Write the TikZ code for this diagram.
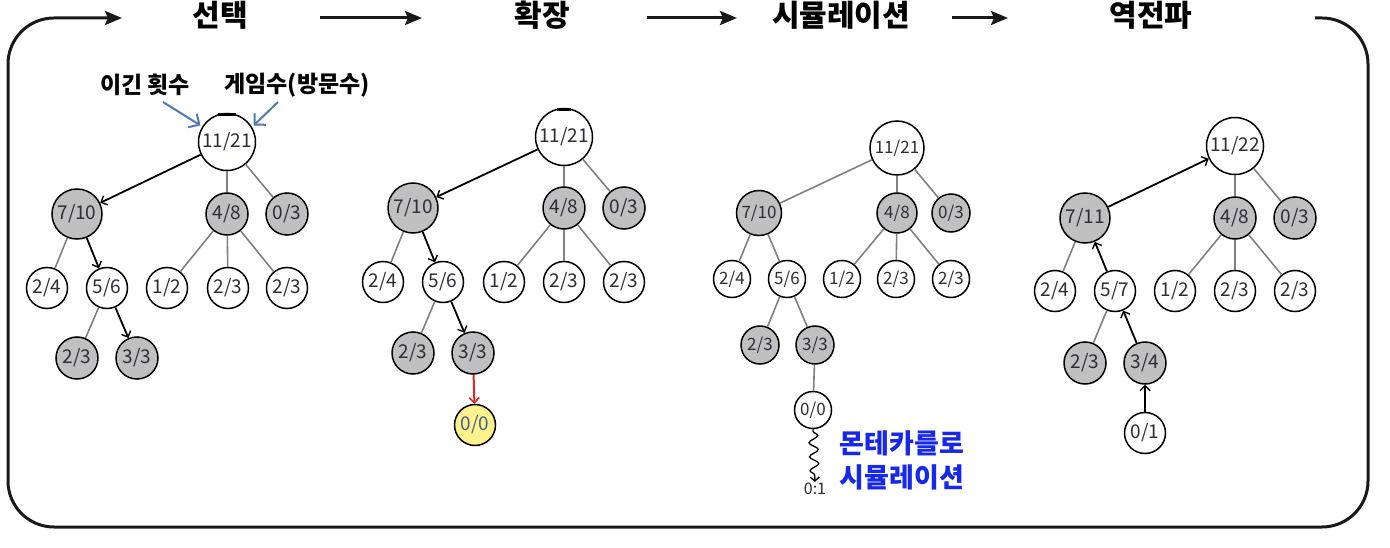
\documentclass[tikz,border=0pt]{standalone}
\usepackage{fontspec}
\setmainfont{Noto Sans CJK KR}
\usetikzlibrary{arrows.meta,decorations.pathmorphing,calc}
\definecolor{nodegray}{RGB}{192,192,192}
\definecolor{edgegray}{RGB}{128,128,128}
\definecolor{hiyellow}{RGB}{255,242,140}
\definecolor{annoblue}{RGB}{79,120,182}
\definecolor{mcblue}{RGB}{22,40,235}
\definecolor{redarrow}{RGB}{220,40,40}
\definecolor{nodetext}{RGB}{45,45,55}
\begin{document}
\begin{tikzpicture}[x=1pt,y=-1pt,
  nd/.style={circle,draw=black,line width=1.5pt,inner sep=0pt,text=nodetext,font=\fontsize{19}{19}\selectfont},
  wn/.style={nd,fill=white,minimum size=41pt},
  gn/.style={nd,fill=nodegray,minimum size=42pt},
  yn/.style={nd,fill=hiyellow,minimum size=41pt,text=annoblue!80!black},
  bign/.style={minimum size=57pt},
  midn/.style={minimum size=50pt},
  sm/.style={font=\fontsize{17}{17}\selectfont},
  edge/.style={draw=edgegray,line width=1.6pt},
  sel/.style={draw=black,line width=1.8pt,-{Straight Barb[length=5pt,width=10pt,line width=1.4pt]}},
  redsel/.style={draw=redarrow,line width=2pt,-{Straight Barb[length=5pt,width=10pt,line width=1.6pt]}},
  anno/.style={draw=annoblue,line width=2pt,-{Straight Barb[length=8pt,width=16pt,line width=2pt]}},
  head/.style={font=\fontsize{30}{30}\selectfont\bfseries},
  frame/.style={draw=black!90,line width=3pt},
  harrow/.style={frame,-{Stealth[length=17pt,width=14pt,inset=3pt]}},
  lbl/.style={font=\fontsize{23}{23}\selectfont\bfseries,text=black},
  mclbl/.style={font=\fontsize{27}{27}\selectfont\bfseries,text=mcblue},
  snakearrow/.style={draw=black,line width=1.3pt,decorate,decoration={snake,amplitude=4.5pt,segment length=14pt,pre length=2pt,post length=5pt},-{Straight Barb[length=4pt,width=9pt]}}
]
\useasboundingbox (0,0) rectangle (1390,548);

% ---------------- header ----------------
\node[head] (hsel) at (220,15) {선택};
\node[head] (hexp) at (542,15) {확장};
\node[head] (hsim) at (841,15) {시뮬레이션};
\node[head] (hbp)  at (1151,15) {역전파};
\coordinate (a1s) at (320,18); \coordinate (a1e) at (422,18);
\coordinate (a2s) at (647,18); \coordinate (a2e) at (737,18);
\coordinate (a3s) at (952,18); \coordinate (a3e) at (1008,18);
\draw[harrow] (a1s) -- (a1e);
\draw[harrow] (a2s) -- (a2e);
\draw[harrow] (a3s) -- (a3e);
\coordinate (f0) at (1315,18); \coordinate (f1) at (1368,18);
\coordinate (f2) at (1368,527); \coordinate (f3) at (8,527);
\coordinate (f4) at (8,18); \coordinate (f5) at (122,18);
\draw[harrow,rounded corners=46pt] (f0) -- (f1) -- (f2) -- (f3) -- (f4) -- (f5);

% ---------------- tree 1: selection ----------------
\node[wn,bign] (r1) at (227,142) {11/21};
\draw[line width=3pt] ($(r1.center)+(-9,-27)$) -- ($(r1.center)+(9,-27)$);
\node[gn,midn] (a1) at (77,214) {7/10};
\node[gn] (b1) at (227,214) {4/8};
\node[gn] (c1) at (287,214) {0/3};
\node[wn] (d1) at (47,288) {2/4};
\node[wn] (e1) at (107,288) {5/6};
\node[wn] (g1) at (167,288) {1/2};
\node[wn] (h1) at (228,288) {2/3};
\node[wn] (i1) at (287,288) {2/3};
\node[gn] (j1) at (77,358) {2/3};
\node[gn] (k1) at (137,358) {3/3};
\draw[edge] (r1) -- (b1); \draw[edge] (r1) -- (c1);
\draw[edge] (a1) -- (d1);
\draw[edge] (b1) -- (g1); \draw[edge] (b1) -- (h1); \draw[edge] (b1) -- (i1);
\draw[edge] (e1) -- (j1);
\draw[sel] (r1) -- (a1);
\draw[sel] (a1) -- (e1);
\draw[sel] (e1) -- (k1);
\node[lbl] (lw) at (145,85) {이긴 횟수};
\node[lbl] (lg) at (297,85) {게임수(방문수)};
\coordinate (lws) at (163,102);
\coordinate (lgs) at (278,102);
\draw[anno,shorten >=2pt] (lws) -- (r1.148);
\draw[anno,shorten >=2pt] (lgs) -- (r1.31);

% ---------------- tree 2: expansion ----------------
\node[wn,bign] (r2) at (564,137) {11/21};
\draw[line width=3pt] ($(r2.center)+(-7,-27)$) -- ($(r2.center)+(7,-27)$);
\node[gn,midn] (a2) at (413,208) {7/10};
\node[gn] (b2) at (564,208) {4/8};
\node[gn] (c2) at (624,208) {0/3};
\node[wn] (d2) at (383,282) {2/4};
\node[wn] (e2) at (443,282) {5/6};
\node[wn] (g2) at (504,282) {1/2};
\node[wn] (h2) at (564,282) {2/3};
\node[wn] (i2) at (624,282) {2/3};
\node[gn] (j2) at (413,353) {2/3};
\node[gn] (k2) at (473,353) {3/3};
\node[yn] (n2) at (475,425) {0/0};
\draw[edge] (r2) -- (b2); \draw[edge] (r2) -- (c2);
\draw[edge] (a2) -- (d2);
\draw[edge] (b2) -- (g2); \draw[edge] (b2) -- (h2); \draw[edge] (b2) -- (i2);
\draw[edge] (e2) -- (j2);
\draw[sel] (r2) -- (a2);
\draw[sel] (a2) -- (e2);
\draw[sel] (e2) -- (k2);
\draw[redsel] (k2) -- (n2);

% ---------------- tree 3: simulation ----------------
\node[wn,sm,minimum size=54pt] (r3) at (897,148) {11/21};
\node[gn,sm,minimum size=45pt] (a3) at (759,213) {7/10};
\node[gn,sm,minimum size=40pt] (b3) at (897,213) {4/8};
\node[gn,sm,minimum size=38pt] (c3) at (951,213) {0/3};
\node[wn,sm,minimum size=37pt] (d3) at (732,279) {2/4};
\node[wn,sm,minimum size=37pt] (e3) at (787,279) {5/6};
\node[wn,sm,minimum size=37pt] (g3) at (842,279) {1/2};
\node[wn,sm,minimum size=37pt] (h3) at (896,279) {2/3};
\node[wn,sm,minimum size=37pt] (i3) at (951,279) {2/3};
\node[gn,sm,minimum size=38pt] (j3) at (760,345) {2/3};
\node[gn,sm,minimum size=38pt] (k3) at (815,345) {3/3};
\node[wn,sm,minimum size=37pt] (n3) at (813,410) {0/0};
\draw[edge] (r3) -- (a3); \draw[edge] (r3) -- (b3); \draw[edge] (r3) -- (c3);
\draw[edge] (a3) -- (d3); \draw[edge] (a3) -- (e3);
\draw[edge] (b3) -- (g3); \draw[edge] (b3) -- (h3); \draw[edge] (b3) -- (i3);
\draw[edge] (e3) -- (j3); \draw[edge] (e3) -- (k3);
\draw[edge] (k3) -- (n3);
\node[font=\fontsize{16}{16}\selectfont,inner sep=0pt,text=nodetext] (t01) at (815,489) {0:1};
\draw[snakearrow] (n3.south) -- ($(t01.north)+(0,-1)$);
\node[mclbl] (mc1) at (902,443) {몬테카를로};
\node[mclbl] (mc2) at (902,477) {시뮬레이션};

% ---------------- tree 4: backpropagation ----------------
\node[wn,bign] (r4) at (1235,146) {11/22};
\node[gn,midn] (a4) at (1085,218) {7/11};
\node[gn] (b4) at (1235,218) {4/8};
\node[gn] (c4) at (1295,218) {0/3};
\node[wn] (d4) at (1055,291) {2/4};
\node[wn] (e4) at (1115,291) {5/7};
\node[wn] (g4) at (1175,291) {1/2};
\node[wn] (h4) at (1235,291) {2/3};
\node[wn] (i4) at (1295,291) {2/3};
\node[gn] (j4) at (1085,363) {2/3};
\node[gn] (k4) at (1145,363) {3/4};
\node[wn] (n4) at (1145,433) {0/1};
\draw[edge] (r4) -- (b4); \draw[edge] (r4) -- (c4);
\draw[edge] (a4) -- (d4);
\draw[edge] (b4) -- (g4); \draw[edge] (b4) -- (h4); \draw[edge] (b4) -- (i4);
\draw[edge] (e4) -- (j4);
\draw[sel] (n4) -- (k4);
\draw[sel] (k4) -- (e4);
\draw[sel] (e4) -- (a4);
\draw[sel] (a4) -- (r4);
\end{tikzpicture}
\end{document}
